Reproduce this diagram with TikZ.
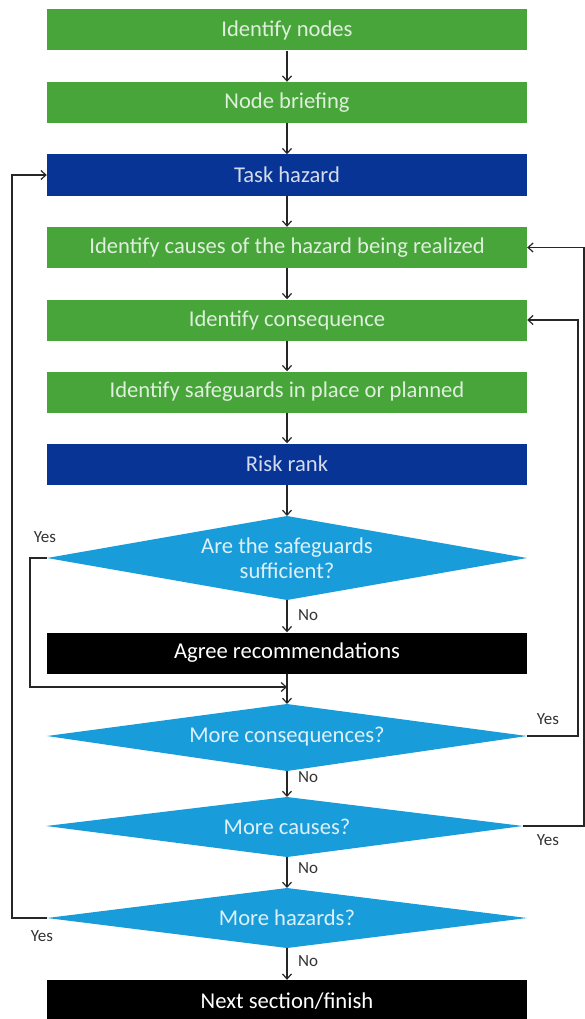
\documentclass[tikz,border=0pt]{standalone}
\usepackage{fontspec}
\setmainfont{Carlito}
\usetikzlibrary{arrows.meta}
\definecolor{stepgreen}{RGB}{72,165,58}
\definecolor{stepnavy}{RGB}{8,52,150}
\definecolor{decblue}{RGB}{25,157,218}
\definecolor{boxblack}{RGB}{0,0,0}
\tikzset{
  stepbox/.style={rectangle, fill=#1, text=white!82!#1, minimum width=480pt,
    minimum height=41pt, inner sep=0pt, font=\fontsize{22.6}{25}\selectfont},
  actbox/.style={stepbox=boxblack, text=white},
  decfill/.style={fill=decblue},
  dtext/.style={inner sep=0pt, text=white!85!decblue, align=center,
    font=\fontsize{22.6}{25}\selectfont},
  flow/.style={draw=black!85, line width=1.2pt, -{Straight Barb[length=5pt,width=9pt]}},
  lbl/.style={font=\fontsize{17}{19}\selectfont, text=black!80, inner sep=0pt}
}
\begin{document}
\begin{tikzpicture}[x=1pt,y=-1pt]
\useasboundingbox (0,0) rectangle (585,1019);

% process steps
\node[stepbox=stepgreen] (n1) at (287,30) {Identify nodes};
\node[stepbox=stepgreen] (n2) at (287,102.5) {Node briefing};
\node[stepbox=stepnavy]  (n3) at (287,175) {Task hazard};
\node[stepbox=stepgreen] (n4) at (287,247.5) {Identify causes of the hazard being realized};
\node[stepbox=stepgreen] (n5) at (287,320) {Identify consequence};
\node[stepbox=stepgreen] (n6) at (287,392) {Identify safeguards in place or planned};
\node[stepbox=stepnavy]  (n7) at (287,464) {Risk rank};

% decision diamonds with named tips
\fill[decfill] (287,516) coordinate (d1n) -- (527,558) coordinate (d1e)
  -- (287,600) coordinate (d1s) -- (47,558) coordinate (d1w) -- cycle;
\node[dtext] (d1) at (287,558) {Are the safeguards\\sufficient?};

\fill[decfill] (287,704) coordinate (d2n) -- (527,736) coordinate (d2e)
  -- (287,771) coordinate (d2s) -- (47,736) coordinate (d2w) -- cycle;
\node[dtext] (d2) at (287,737) {More consequences?};

\fill[decfill] (287,797) coordinate (d3n) -- (523,826) coordinate (d3e)
  -- (287,857) coordinate (d3s) -- (46,826) coordinate (d3w) -- cycle;
\node[dtext] (d3) at (287,827) {More causes?};

\fill[decfill] (287,888) coordinate (d4n) -- (527,918) coordinate (d4e)
  -- (287,948) coordinate (d4s) -- (47,918) coordinate (d4w) -- cycle;
\node[dtext] (d4) at (287,918) {More hazards?};

% actions
\node[actbox] (a1) at (287,653) {Agree recommendations};
\node[actbox, minimum height=42pt] (a2) at (287,1001) {Next section/finish};

% main flow
\draw[flow] (n1) -- (n2);
\draw[flow] (n2) -- (n3);
\draw[flow] (n3) -- (n4);
\draw[flow] (n4) -- (n5);
\draw[flow] (n5) -- (n6);
\draw[flow] (n6) -- (n7);
\draw[flow] (n7) -- (d1n);
\draw[flow] (d1s) -- (a1);
\draw[flow] (a1) -- (d2n);
\draw[flow] (d2s) -- (d3n);
\draw[flow] (d3s) -- (d4n);
\draw[flow] (d4s) -- (a2);

% "No" labels
\node[lbl, anchor=west] at (298,615) {No};
\node[lbl, anchor=west] at (298,777) {No};
\node[lbl, anchor=west] at (298,868) {No};
\node[lbl, anchor=west] at (298,961) {No};

% safeguards sufficient: skip the recommendations
\coordinate (j1) at (287,687);
\draw[flow] (d1w) -- (30,558) -- (30,687) -- (j1);
\node[lbl] at (45,537) {Yes};

% more consequences: back to identify consequence
\draw[flow] (d2e) -- (578,736) -- (578,320) -- (n5.east);
\node[lbl] at (548,719) {Yes};

% more causes: back to identify causes
\draw[flow] (d3e) -- (584,826) -- (584,247.5) -- (n4.east);
\node[lbl] at (548,840) {Yes};

% more hazards: back to task hazard
\draw[flow] (d4w) -- (12,918) -- (12,175) -- (n3.west);
\node[lbl] at (42,936) {Yes};
\end{tikzpicture}
\end{document}
